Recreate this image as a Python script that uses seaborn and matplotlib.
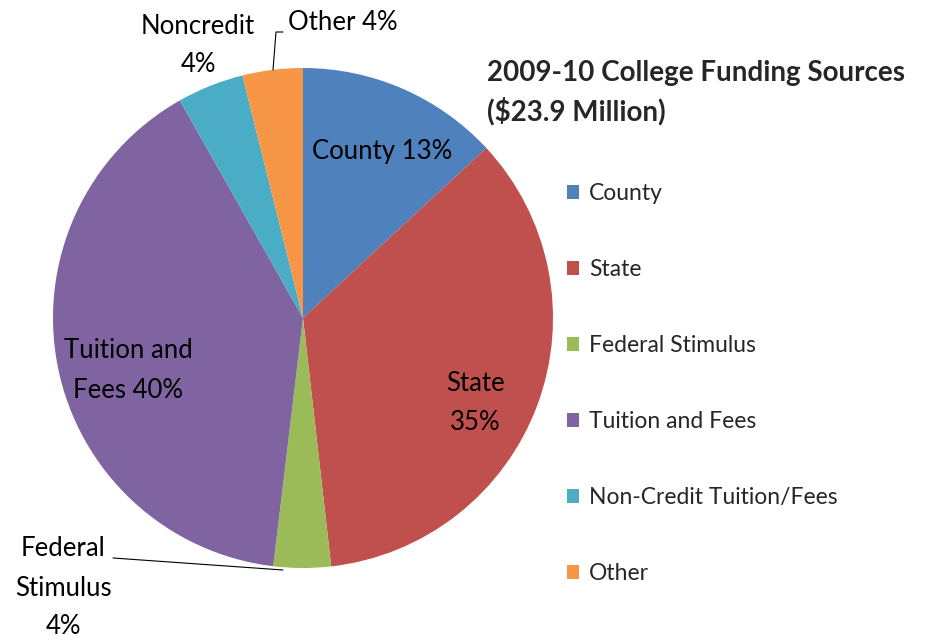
import matplotlib
matplotlib.use("Agg")
import matplotlib.pyplot as plt
import seaborn as sns

# Data (percent of total funding)
sources = ["County", "State", "Federal Stimulus", "Tuition and Fees",
           "Non-Credit Tuition/Fees", "Other"]
shares = [13.1, 35.1, 3.7, 39.9, 4.3, 3.9]
slice_labels = ["County 13%", "State\n35%", "Federal\nStimulus\n4%",
                "Tuition and\nFees 40%", "Noncredit\n4%", "Other 4%"]
title_text = "2009-10 College Funding Sources\n($23.9 Million)"

# Office 2007 palette
colors = sns.color_palette(["#4F81BD", "#C0504D", "#9BBB59",
                            "#8064A2", "#4BACC6", "#F79646"])

sns.set_theme(style="white")
plt.rcParams['font.family'] = ['Lato', 'DejaVu Sans']

fig = plt.figure(figsize=(9.25, 6.41), dpi=100)
ax = fig.add_axes([53 / 925, 73 / 641, 500 / 925, 500 / 641])

wedges, _ = ax.pie(shares, colors=colors, startangle=90, counterclock=False,
                   radius=1.0, wedgeprops=dict(linewidth=0))
ax.set_xlim(-1, 1)
ax.set_ylim(-1, 1)
ax.set_aspect("equal")
ax.axis("off")

# slice labels, placed like the hand-positioned Excel labels
label_pos = [(0.316, 0.664), (0.69, -0.34), (-0.96, -1.08),
             (-0.70, -0.21), (-0.42, 1.09), (0.16, 1.18)]
for txt, (x, y) in zip(slice_labels, label_pos):
    ax.text(x, y, txt, ha="center", va="center", fontsize=18.5,
            color="black", linespacing=1.7, clip_on=False)

# leader lines
ax.plot([-0.76, -0.08], [-0.96, -1.008], color="black", lw=0.8, clip_on=False)
ax.plot([-0.08, -0.108, -0.12], [1.144, 1.144, 0.992], color="black",
        lw=0.8, clip_on=False)

fig.text(487 / 925, 1 - 60 / 641, title_text, ha="left", va="top",
         fontsize=20, fontweight="bold", linespacing=1.45)

fig.legend(wedges, sources, loc="upper left",
           bbox_to_anchor=(567 / 925, 1 - 183 / 641), frameon=False,
           fontsize=16.5, handlelength=0.52, handleheight=0.52,
           handletextpad=0.45, labelspacing=2.4, borderpad=0,
           borderaxespad=0)

fig.savefig("out.png", dpi=100)
